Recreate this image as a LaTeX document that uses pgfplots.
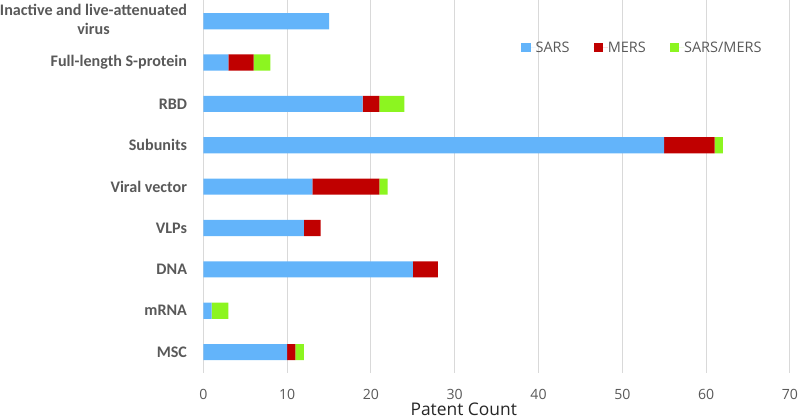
\documentclass[border=0pt]{standalone}
\usepackage{pgfplots}
\pgfplotsset{compat=1.18}
\usepackage{fontspec}
\setmainfont{Carlito}
\newfontfamily\osans{Open Sans}
\definecolor{sars}{HTML}{63B4FA}
\definecolor{mers}{HTML}{C00000}
\definecolor{sm}{HTML}{8CF520}
\definecolor{txt}{HTML}{595959}
\definecolor{gridc}{HTML}{D9D9D9}
\begin{document}
\begin{tikzpicture}
\begin{axis}[
  scale only axis,
  width=583pt, height=370pt,
  xbar stacked,
  bar width=0.39,
  xmin=0, xmax=70,
  ymin=-0.5, ymax=8.5,
  y dir=reverse,
  ytick={0,...,8},
  yticklabels={{\begin{tabular}{@{}c@{}}Inactive and live-attenuated\\virus\end{tabular}},Full-length S-protein,RBD,Subunits,Viral vector,VLPs,DNA,mRNA,MSC},
  yticklabel style={font=\fontsize{16}{19}\selectfont\bfseries, text=txt, inner sep=0pt, xshift=-16pt},
  xtick={0,10,...,70},
  xticklabel style={font=\osans\fontsize{14}{15}\selectfont, text=txt, inner sep=0pt, yshift=-16pt},
  /pgf/number format/assume math mode=true,
  major tick length=0pt,
  axis line style={draw=none},
  xmajorgrids, grid style={gridc, line width=1pt},
  xlabel={Patent Count},
  xlabel style={font=\osans\fontsize{17.3}{18}\selectfont, text=black!85, at={(axis description cs:0.444,0)}, anchor=north, yshift=-30pt, inner sep=0pt},
  legend columns=3,
  legend style={draw=none, fill=none, at={(rel axis cs:0.542,0.873)}, anchor=west, inner sep=0pt, font=\osans\fontsize{14.4}{15}\selectfont, text=txt, /tikz/every even column/.append style={column sep=24pt}, nodes={inner xsep=0pt, inner ysep=2pt}},
  legend image code/.code={\fill[#1] (0pt,-4.5pt) rectangle (9pt,4.5pt); \path (0pt,0pt) -- (14pt,0pt);},
  clip=false,
]
\addplot[fill=sars, draw=none] coordinates {(15,0) (3,1) (19,2) (55,3) (13,4) (12,5) (25,6) (1,7) (10,8)};
\addplot[fill=mers, draw=none] coordinates {(0,0) (3,1) (2,2) (6,3) (8,4) (2,5) (3,6) (0,7) (1,8)};
\addplot[fill=sm, draw=none] coordinates {(0,0) (2,1) (3,2) (1,3) (1,4) (0,5) (0,6) (2,7) (1,8)};
\legend{SARS,MERS,SARS/MERS}
\end{axis}
\end{tikzpicture}
\end{document}
